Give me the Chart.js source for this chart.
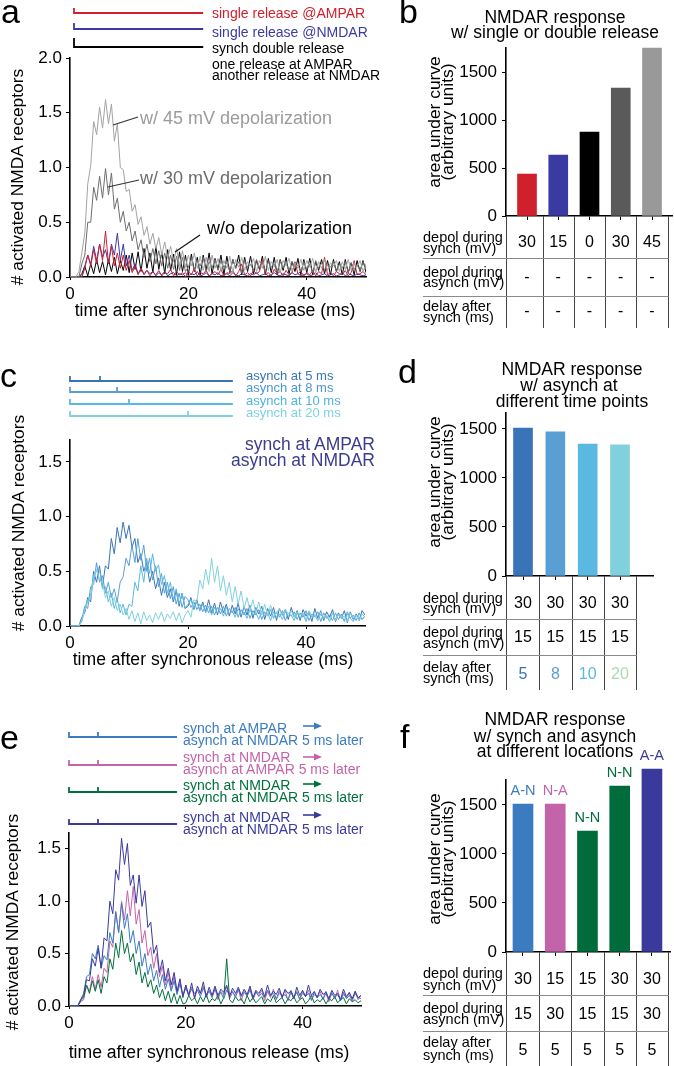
<!DOCTYPE html>
<html><head><meta charset="utf-8">
<script src="https://cdn.jsdelivr.net/npm/chart.js@4.4.1/dist/chart.umd.min.js"></script>
<style>
html,body{margin:0;padding:0;background:#fff}
body{width:674px;height:1066px;position:relative;overflow:hidden;font-family:"Liberation Sans",Arial,Helvetica,sans-serif}
canvas{position:absolute}
.t{position:absolute;white-space:nowrap;line-height:1}
</style></head>
<body>
<script>
// ---------------- DATA ----------------
const T_STEP = 0.5;            // ms between digitised samples (t = 0 ... 50 ms)
const TIME_TICKS = [0, 20, 40];
const TRACE_Y_TICKS = [0, 0.5, 1.0, 1.5, 2.0];
const BAR_Y_TICKS = [0, 500, 1000, 1500];

// panel a : # activated NMDA receptors
const A_DEP45 = [0,0,0,.05,.22,.4,.85,1.02,1.42,1.3,
 1.55,1.36,1.62,1.4,1.58,1.24,1.4,1.0,.98,.78,
 .8,.6,.66,.48,.55,.38,.46,.3,.4,.26,
 .36,.2,.32,.17,.28,.14,.26,.1,.24,.09,
 .2,.1,.22,.08,.19,.06,.18,.05,.2,.08,
 .17,.06,.15,.08,.19,.04,.16,.09,.18,.06,
 .14,.1,.17,.05,.15,.08,.19,.06,.14,.09,
 .16,.04,.15,.1,.17,.05,.13,.08,.16,.06,
 .15,.09,.17,.04,.14,.08,.16,.06,.13,.1,
 .15,.05,.14,.07,.16,.06,.13,.09,.15,.05,
 .12];
const A_DEP30 = [0,0,0,0,.12,.2,.5,.5,.82,.7,
 .92,.72,.99,.75,.95,.62,.72,.5,.6,.42,
 .5,.33,.42,.25,.34,.18,.3,.14,.26,.12,
 .24,.1,.22,.08,.2,.07,.19,.06,.18,.05,
 .09,.17,.06,.15,.1,.18,.05,.14,.08,.16,
 .06,.15,.09,.13,.05,.16,.08,.14,.04,.15,
 .09,.12,.06,.16,.08,.13,.05,.14,.09,.12,
 .04,.15,.08,.13,.06,.14,.09,.11,.05,.14,
 .07,.12,.04,.15,.08,.13,.06,.11,.09,.14,
 .05,.12,.08,.14,.04,.13,.07,.11,.06,.14,
 .08];
const A_DOUBLE = [0,0,0,0,.03,.1,.01,.12,.03,.16,
 .04,.14,.02,.16,.05,.18,.03,.15,.06,.2,
 .04,.22,.07,.23,.05,.26,.08,.22,.04,.28,
 .07,.23,.03,.25,.06,.21,.02,.23,.05,.2,
 .02,.21,.05,.18,.02,.2,.06,.22,.03,.17,
 .07,.2,.02,.19,.04,.16,.08,.2,.02,.18,
 .05,.19,.03,.15,.07,.19,.02,.17,.04,.18,
 .02,.16,.06,.18,.03,.14,.05,.17,.02,.16,
 .04,.17,.02,.14,.06,.16,.03,.15,.02,.16,
 .05,.14,.02,.16,.04,.13,.02,.15,.05,.15,
 .04];
const A_SINGLE_AMPAR = [0,0,0,0,0,.08,.2,.1,.25,.12,
 .3,.15,.42,.12,.28,.1,.22,.08,.2,.06,
 .15,.04,.1,.02,.08,.03,.06,.01,.05,.02,
 .06,.01,.04,.03,.07,.01,.05,.02,.04,0,
 .05,.02,.08,.01,.04,.03,.06,.01,.03,.05,
 .02,.07,.01,.04,.03,.06,.01,.05,.12,.02,
 .04,.01,.06,.03,.05,.16,.02,.04,.01,.07,
 .03,.05,.01,.06,.02,.04,.14,.03,.05,.01,
 .04,.02,.06,.01,.05,.03,.18,.02,.04,.01,
 .05,.03,.02,.06,.01,.04,.15,.02,.03,.05,
 .02];
const A_SINGLE_NMDAR = [0,0,0,0,0,.1,.2,.12,.28,.15,
 .3,.18,.25,.12,.3,.2,.4,.15,.3,.1,
 .2,.06,.12,.03,.08,.02,.06,.03,.05,.01,
 .04,.02,.05,.01,.03,.04,.01,.03,.02,.04,
 .01,.03,.02,.05,.01,.02,.04,.01,.03,.02,
 .04,.01,.02,.03,.01,.04,.02,.01,.03,.02,
 .01,.03,.02,.04,.01,.02,.03,.01,.02,.04,
 .02,.01,.03,.02,.01,.04,.02,.03,.01,.02,
 .03,.01,.02,.04,.01,.02,.03,.01,.02,.03,
 .01,.02,.04,.01,.03,.02,.01,.03,.02,.01,
 .02];

// panel c : asynch at 5 / 8 / 10 / 20 ms
const C_ASYNC5 = [0,0,0,0,.08,.12,.26,.22,.5,.4,
 .55,.36,.55,.52,.8,.66,.9,.76,.95,.8,
 .92,.72,.8,.58,.66,.5,.58,.4,.5,.34,
 .44,.28,.4,.26,.34,.22,.32,.18,.3,.16,
 .18,.26,.15,.24,.14,.22,.13,.24,.12,.21,
 .1,.22,.12,.2,.09,.19,.11,.21,.08,.18,
 .1,.19,.07,.17,.11,.18,.06,.16,.09,.17,
 .05,.16,.1,.15,.06,.17,.08,.14,.05,.15,
 .09,.13,.04,.16,.07,.14,.05,.13,.08,.15,
 .04,.12,.07,.14,.03,.13,.06,.11,.05,.14,
 .1];
const C_ASYNC8 = [0,0,0,0,.06,.18,.16,.36,.38,.58,
 .4,.46,.3,.4,.26,.34,.22,.4,.45,.62,
 .55,.74,.58,.8,.6,.74,.5,.62,.42,.55,
 .36,.48,.3,.4,.25,.36,.2,.3,.17,.27,
 .24,.17,.22,.15,.2,.13,.19,.12,.18,.1,
 .17,.11,.18,.09,.16,.12,.17,.08,.15,.1,
 .16,.07,.14,.1,.15,.06,.13,.09,.15,.07,
 .13,.08,.14,.05,.12,.09,.13,.06,.12,.08,
 .14,.05,.11,.08,.13,.04,.12,.07,.1,.05,
 .12,.06,.11,.04,.13,.07,.1,.05,.12,.06,
 .09];
const C_ASYNC10 = [0,0,0,0,.04,.16,.24,.28,.46,.5,
 .52,.34,.36,.22,.3,.16,.25,.12,.2,.1,
 .2,.18,.4,.32,.55,.4,.62,.48,.66,.5,
 .56,.38,.46,.3,.4,.24,.34,.2,.3,.16,
 .2,.24,.16,.22,.14,.2,.12,.18,.1,.17,
 .12,.16,.09,.17,.11,.14,.08,.16,.1,.13,
 .07,.15,.1,.12,.06,.14,.09,.12,.05,.13,
 .08,.11,.06,.13,.09,.1,.05,.12,.07,.11,
 .04,.12,.08,.1,.05,.11,.07,.09,.04,.12,
 .06,.1,.08,.05,.11,.07,.04,.1,.08,.06,
 .09];
const C_ASYNC20 = [0,0,0,0,.05,.14,.22,.26,.44,.52,
 .42,.4,.26,.32,.18,.26,.14,.2,.1,.16,
 .06,.14,.04,.12,.02,.13,.05,.1,.03,.12,
 .06,.13,.04,.11,.07,.13,.05,.12,.03,.1,
 .14,.08,.24,.22,.42,.34,.52,.38,.62,.4,
 .55,.32,.46,.28,.4,.22,.36,.2,.32,.16,
 .26,.14,.24,.12,.22,.1,.2,.09,.19,.08,
 .12,.16,.09,.15,.11,.14,.08,.13,.1,.12,
 .06,.14,.09,.11,.05,.13,.08,.1,.06,.12,
 .05,.11,.08,.09,.04,.12,.07,.1,.05,.11,
 .08];

// panel e : synch / asynch at different locations
const E_NMDAR_NMDAR_30 = [0,0,0,0,.06,.1,.25,.24,.45,.38,
 .55,.36,.65,.62,1.0,.88,1.3,1.2,1.6,1.35,
 1.55,1.15,1.25,.98,1.25,.95,1.1,.75,.8,.5,
 .58,.32,.44,.24,.36,.2,.32,.14,.26,.08,
 .2,.1,.22,.08,.19,.12,.23,.09,.18,.1,
 .19,.1,.16,.13,.2,.09,.17,.12,.18,.1,
 .16,.11,.19,.08,.15,.12,.17,.09,.2,.1,
 .14,.11,.17,.08,.16,.12,.14,.07,.18,.1,
 .15,.09,.2,.1,.14,.08,.16,.11,.13,.07,
 .15,.1,.12,.06,.16,.09,.13,.07,.14,.08,
 .1];
const E_AMPAR_NMDAR = [0,0,0,0,.06,.12,.28,.3,.5,.45,
 .58,.36,.48,.44,.7,.6,.9,.7,.98,.74,
 .88,.6,.72,.5,.62,.38,.5,.3,.4,.24,
 .34,.18,.3,.16,.26,.14,.24,.11,.21,.1,
 .17,.1,.16,.12,.15,.09,.17,.11,.14,.08,
 .16,.1,.13,.07,.15,.11,.14,.08,.16,.09,
 .13,.1,.15,.07,.14,.09,.12,.08,.15,.1,
 .12,.07,.14,.09,.11,.06,.15,.08,.13,.07,
 .14,.09,.12,.06,.13,.08,.11,.07,.14,.06,
 .12,.08,.11,.05,.13,.07,.1,.06,.12,.08,
 .07];
const E_NMDAR_AMPAR = [0,0,0,0,.04,.06,.2,.14,.28,.16,
 .3,.18,.36,.32,.62,.56,.9,.7,1.0,.82,
 1.1,.86,1.14,.78,.92,.6,.72,.48,.56,.36,
 .5,.28,.38,.2,.32,.16,.28,.12,.25,.1,
 .2,.1,.18,.07,.16,.12,.19,.08,.15,.1,
 .17,.06,.14,.11,.18,.07,.13,.1,.16,.05,
 .14,.09,.17,.06,.13,.1,.15,.05,.14,.08,
 .16,.06,.12,.09,.15,.05,.13,.08,.14,.06,
 .12,.09,.15,.05,.11,.08,.14,.06,.12,.04,
 .13,.07,.15,.05,.11,.08,.12,.04,.14,.06,
 .1];
const E_NMDAR_NMDAR_15 = [0,0,0,0,.05,.08,.2,.12,.24,.14,
 .25,.12,.28,.22,.45,.35,.6,.46,.72,.5,
 .6,.42,.5,.3,.42,.22,.32,.18,.25,.12,
 .2,.08,.16,.05,.14,.03,.12,.02,.1,.02,
 .03,.1,.05,.08,.02,.09,.04,.11,.03,.07,
 .05,.1,.02,.08,.45,.06,.03,.09,.05,.07,
 .02,.1,.04,.08,.03,.06,.09,.02,.07,.04,
 .1,.03,.06,.08,.02,.07,.05,.09,.03,.06,
 .08,.02,.05,.1,.03,.06,.04,.08,.02,.07,
 .05,.09,.03,.06,.08,.02,.07,.04,.06,.03,
 .05];

// stimulus schematics (ms)
const A_STIM_START = [0.7, 0.7, 0.7];
const A_STIM_END = [22.5, 22.5, 22.5];
const C_STIM_END = 27.6;
const C_ASYNC_TIMES = [5, 8, 10, 20];
const E_STIM_END = 18.5;
const E_ASYNC_TIMES = [5, 5, 5, 5];

// bar panels : area under curve
const B_VALUES = [437, 635, 875, 1333, 1750];
const B_SYNCH = ['30', '15', '0', '30', '45'];
const B_ASYNCH = ['-', '-', '-', '-', '-'];
const B_DELAY = ['-', '-', '-', '-', '-'];

const D_VALUES = [1510, 1470, 1347, 1337];
const D_SYNCH = ['30', '30', '30', '30'];
const D_ASYNCH = ['15', '15', '15', '15'];
const D_DELAY = ['5', '8', '10', '20'];

const F_VALUES = [1510, 1510, 1235, 1694, 1867];
const F_LABELS = ['A-N', 'N-A', 'N-N', 'N-N', 'A-A'];
const F_SYNCH = ['30', '15', '15', '30', '30'];
const F_ASYNCH = ['15', '30', '15', '15', '30'];
const F_DELAY = ['5', '5', '5', '5', '5'];

const ROW_LABELS = [['depol during', 'synch (mV)'], ['depol during', 'asynch (mV)'], ['delay after', 'synch (ms)']];

// ---------------- STYLE / LAYOUT ----------------
const FONT = '"Liberation Sans", Arial, Helvetica, sans-serif';
Chart.defaults.font.family = FONT;
Chart.defaults.color = '#000';

const COL = {
  red: '#d0202e', blueA: '#3a3aa3', black: '#000000', gray30: '#6e6e6e', gray45: '#a3a3a3',
  c5: '#3874b7', c8: '#5a9fd3', c10: '#5bb8e0', c20: '#80d1dd',
  navy: '#3a3a9c', blue: '#3b7cc0', pink: '#c364ab', green: '#00713c',
  barDark: '#5a5a5a', barLight: '#999999'
};

function addText(s, x, y, o = {}) {
  const d = document.createElement('div');
  d.className = 't';
  d.textContent = s;
  d.style.left = x + 'px';
  d.style.top = y + 'px';
  d.style.fontSize = (o.size || 14) + 'px';
  d.style.color = o.color || '#000';
  let tf = 'translateY(-50%)';
  if (o.align === 'center') tf = 'translate(-50%,-50%)';
  if (o.align === 'right') tf = 'translate(-100%,-50%)';
  if (o.rot) tf = 'translate(-50%,-50%) rotate(-90deg)';
  d.style.transform = tf;
  document.body.appendChild(d);
}

function makeCanvas(box) {
  const c = document.createElement('canvas');
  c.width = box.w; c.height = box.h;
  c.style.left = box.x + 'px'; c.style.top = box.y + 'px';
  c.style.width = box.w + 'px'; c.style.height = box.h + 'px';
  document.body.appendChild(c);
  return c;
}

const toXY = arr => arr.map((v, i) => ({ x: i * T_STEP, y: v }));

function axisBorder() { return { display: true, color: '#000', width: 1.6 }; }

function lineChart(box, area, ymax, series, plugin) {
  const c = makeCanvas(box);
  return new Chart(c, {
    type: 'line',
    data: { datasets: series.map(s => ({ data: toXY(s.data), borderColor: s.color, borderWidth: 1, pointRadius: 0, fill: false, tension: 0 })) },
    options: {
      responsive: false, animation: false, devicePixelRatio: 1, events: [],
      layout: { padding: { left: 0, top: area.top - box.y, right: box.x + box.w - area.right, bottom: 0 } },
      plugins: { legend: { display: false }, tooltip: { enabled: false } },
      scales: {
        x: {
          type: 'linear', min: 0, max: 50, offset: false,
          afterFit: s => { s.height = box.y + box.h - area.bottom; },
          afterBuildTicks: s => { s.ticks = TIME_TICKS.map(v => ({ value: v })); },
          ticks: { font: { size: 17 }, padding: 4, maxRotation: 0, color: '#000' },
          grid: { drawOnChartArea: false, drawTicks: true, tickLength: 3, color: '#000', offset: false },
          border: axisBorder()
        },
        y: {
          type: 'linear', min: 0, max: ymax,
          afterFit: s => { s.width = area.left - box.x; },
          afterBuildTicks: s => { s.ticks = TRACE_Y_TICKS.filter(v => v <= ymax).map(v => ({ value: v })); },
          ticks: { font: { size: 17 }, padding: 4, color: '#000', callback: v => Number(v).toFixed(1) },
          grid: { drawOnChartArea: false, drawTicks: true, tickLength: 4, color: '#000' },
          border: axisBorder()
        }
      }
    },
    plugins: plugin ? [plugin] : []
  });
}

function barChart(box, area, xmin, xmax, ymax, values, colors, thick, tableLines) {
  const c = makeCanvas(box);
  return new Chart(c, {
    type: 'bar',
    data: { datasets: [{ data: values.map((v, i) => ({ x: i, y: v })), backgroundColor: colors, barThickness: thick, clip: false, borderWidth: 0 }] },
    options: {
      responsive: false, animation: false, devicePixelRatio: 1, events: [],
      layout: { padding: { left: 0, top: area.top - box.y, right: box.x + box.w - area.right, bottom: 0 } },
      plugins: { legend: { display: false }, tooltip: { enabled: false } },
      scales: {
        x: {
          type: 'linear', min: xmin, max: xmax, offset: false,
          afterFit: s => { s.height = box.y + box.h - area.bottom; },
          afterBuildTicks: s => { s.ticks = values.map((v, i) => ({ value: i })); },
          ticks: { callback: () => '' },
          grid: { drawOnChartArea: false, drawTicks: true, tickLength: 4, color: '#000', offset: false },
          border: axisBorder()
        },
        y: {
          type: 'linear', min: 0, max: ymax,
          afterFit: s => { s.width = area.left - box.x; },
          afterBuildTicks: s => { s.ticks = BAR_Y_TICKS.map(v => ({ value: v })); },
          ticks: { font: { size: 17 }, padding: 5, color: '#000', callback: v => String(v) },
          grid: { drawOnChartArea: false, drawTicks: true, tickLength: 4, color: '#000' },
          border: axisBorder()
        }
      }
    },
    plugins: [{
      id: 'table',
      afterDraw(chart) {
        const ctx = chart.ctx, xs = chart.scales.x, ca = chart.chartArea;
        const n = values.length;
        const px = i => xs.getPixelForValue(i);
        const bounds = [ca.left];
        for (let i = 0; i < n - 1; i++) bounds.push((px(i) + px(i + 1)) / 2);
        bounds.push(px(n - 1) + (px(n - 1) - px(n - 2)) / 2);
        ctx.save();
        ctx.lineWidth = 1;
        ctx.strokeStyle = '#444';
        const bottom = tableLines.bottom - box.y;
        bounds.forEach(b => { const xx = Math.round(b) + 0.5; ctx.beginPath(); ctx.moveTo(xx, ca.bottom); ctx.lineTo(xx, bottom); ctx.stroke(); });
        ctx.strokeStyle = '#8a8a8a';
        tableLines.rows.forEach(yy => { const y = yy - box.y + 0.5; ctx.beginPath(); ctx.moveTo(tableLines.left - box.x, y); ctx.lineTo(bounds[bounds.length - 1] + 1, y); ctx.stroke(); });
        ctx.restore();
      }
    }]
  });
}

function drawStim(ctx, xs, y, start, end, color, startTick, asyncT) {
  ctx.save();
  ctx.strokeStyle = color; ctx.lineWidth = 1.8;
  const x0 = Math.round(xs.getPixelForValue(start)), x1 = xs.getPixelForValue(end);
  ctx.beginPath();
  ctx.moveTo(x0, y - startTick); ctx.lineTo(x0, y); ctx.lineTo(x1, y);
  ctx.stroke();
  if (asyncT !== undefined) {
    const xa = Math.round(xs.getPixelForValue(asyncT));
    ctx.beginPath(); ctx.moveTo(xa, y); ctx.lineTo(xa, y - 5); ctx.stroke();
  }
  ctx.restore();
}

function seg(ctx, x0, y0, x1, y1, color) {
  ctx.save(); ctx.strokeStyle = color; ctx.lineWidth = 1.2;
  ctx.beginPath(); ctx.moveTo(x0, y0); ctx.lineTo(x1, y1); ctx.stroke(); ctx.restore();
}

function arrow(ctx, x0, x1, y, color) {
  ctx.save(); ctx.strokeStyle = color; ctx.fillStyle = color; ctx.lineWidth = 1.6;
  ctx.beginPath(); ctx.moveTo(x0, y); ctx.lineTo(x1 - 6, y); ctx.stroke();
  ctx.beginPath(); ctx.moveTo(x1, y); ctx.lineTo(x1 - 8, y - 3.5); ctx.lineTo(x1 - 8, y + 3.5); ctx.closePath(); ctx.fill();
  ctx.restore();
}

function tableText(chart, box, rowsCfg, labelX, cells) {
  const xs = chart.scales.x;
  rowsCfg.forEach((r, ri) => {
    addText(ROW_LABELS[ri][0], labelX, r.l1, { size: 14.5 });
    addText(ROW_LABELS[ri][1], labelX, r.l2, { size: 14.5 });
    cells[ri].vals.forEach((v, i) => {
      const col = cells[ri].colors ? cells[ri].colors[i] : '#000';
      addText(v, box.x + xs.getPixelForValue(i), r.v, { size: 16, align: 'center', color: col });
    });
  });
}

// ---------------- PANEL a ----------------
const boxA = { x: 0, y: 0, w: 380, h: 330 };
lineChart(boxA, { left: 70, top: 58, right: 366, bottom: 277 }, 2.0, [
  { data: A_DEP45, color: COL.gray45 },
  { data: A_DEP30, color: COL.gray30 },
  { data: A_SINGLE_AMPAR, color: COL.red },
  { data: A_SINGLE_NMDAR, color: COL.blueA },
  { data: A_DOUBLE, color: COL.black }
], {
  id: 'stimA',
  afterDraw(chart) {
    const ctx = chart.ctx, xs = chart.scales.x;
    const ys = [13, 29, 47], cols = [COL.red, COL.blueA, '#000'], tk = [5, 6, 9];
    ys.forEach((y, i) => drawStim(ctx, xs, y, A_STIM_START[i], A_STIM_END[i], cols[i], tk[i]));
    seg(ctx, 113, 125, 138, 117, '#333');
    seg(ctx, 108, 187, 139, 180, '#333');
    seg(ctx, 175, 252, 200, 235, '#111');
  }
});

// ---------------- PANEL b ----------------
const boxB = { x: 380, y: 0, w: 294, h: 330 };
const chartB = barChart(boxB, { left: 506, top: 48, right: 672, bottom: 216 }, -0.672, 4.64, 1750, B_VALUES,
  [COL.red, COL.blueA, '#000', COL.barDark, COL.barLight], 19, { rows: [258, 296], bottom: 328, left: 423 });

// ---------------- PANEL c ----------------
const boxC = { x: 0, y: 330, w: 380, h: 340 };
lineChart(boxC, { left: 70, top: 440, right: 365, bottom: 626 }, 1.7, [
  { data: C_ASYNC20, color: COL.c20 },
  { data: C_ASYNC10, color: COL.c10 },
  { data: C_ASYNC8, color: COL.c8 },
  { data: C_ASYNC5, color: COL.c5 }
], {
  id: 'stimC',
  afterDraw(chart) {
    const ctx = chart.ctx, xs = chart.scales.x;
    const ys = [381, 392, 404, 416], cols = [COL.c5, COL.c8, COL.c10, COL.c20];
    ys.forEach((y, i) => drawStim(ctx, xs, y - boxC.y, 0, C_STIM_END, cols[i], 5, C_ASYNC_TIMES[i]));
  }
});

// ---------------- PANEL d ----------------
const boxD = { x: 380, y: 330, w: 294, h: 362 };
const chartD = barChart(boxD, { left: 506, top: 413, right: 653, bottom: 576 }, -0.526, 4.02, 1663, D_VALUES,
  [COL.c5, COL.c8, COL.c10, COL.c20], 19, { rows: [619, 655], bottom: 690, left: 423 });

// ---------------- PANEL e ----------------
const boxE = { x: 0, y: 660, w: 380, h: 406 };
lineChart(boxE, { left: 69, top: 833, right: 361, bottom: 1006 }, 1.65, [
  { data: E_NMDAR_NMDAR_30, color: COL.navy },
  { data: E_AMPAR_NMDAR, color: COL.blue },
  { data: E_NMDAR_NMDAR_15, color: COL.green },
  { data: E_NMDAR_AMPAR, color: COL.pink }
], {
  id: 'stimE',
  afterDraw(chart) {
    const ctx = chart.ctx, xs = chart.scales.x;
    const ys = [737, 765, 792, 824], cols = [COL.blue, COL.pink, COL.green, COL.navy];
    const ay = [726, 757, 784, 815];
    ys.forEach((y, i) => {
      drawStim(ctx, xs, y - boxE.y, 0, E_STIM_END, cols[i], 5, E_ASYNC_TIMES[i]);
      arrow(ctx, 303, 322, ay[i] - boxE.y, cols[i]);
    });
  }
});

// ---------------- PANEL f ----------------
const boxF = { x: 380, y: 660, w: 294, h: 406 };
const F_COLORS = [COL.blue, COL.pink, '#006b3b', '#006b3b', COL.navy];
const chartF = barChart(boxF, { left: 506, top: 780, right: 670, bottom: 952 }, -0.527, 4.56, 1755, F_VALUES,
  F_COLORS, 20, { rows: [995, 1031], bottom: 1066, left: 423 });

// ---------------- TEXT ----------------
addText('a', 1, 11, { size: 34 });
addText('b', 399, 11, { size: 34 });
addText('c', 0, 375, { size: 34 });
addText('d', 398, 371, { size: 34 });
addText('e', 0, 737, { size: 34 });
addText('f', 400, 736, { size: 34 });

// panel a
addText('single release @AMPAR', 212, 13, { color: COL.red });
addText('single release @NMDAR', 212, 32, { color: COL.blueA });
addText('synch double release', 212, 48);
addText('one release at AMPAR', 212, 64);
addText('another release at NMDAR', 212, 75);
addText('w/ 45 mV depolarization', 140, 118, { size: 18, color: '#9b9b9b' });
addText('w/ 30 mV depolarization', 140, 178, { size: 18, color: '#6b6b6b' });
addText('w/o depolarization', 207, 228, { size: 18 });
addText('# activated NMDA receptors', 18, 177, { size: 17.4, rot: true });
addText('time after synchronous release (ms)', 215, 311, { size: 17.6, align: 'center' });

// panel b
addText('NMDAR response', 555, 18, { size: 17.5, align: 'center' });
addText('w/ single or double release', 555, 33, { size: 17.5, align: 'center' });
addText('area under curve', 435, 122, { size: 17.4, rot: true });
addText('(arbitrary units)', 448, 122, { size: 17.4, rot: true });
tableText(chartB, boxB, [{ l1: 237, l2: 248, v: 242 }, { l1: 272, l2: 282, v: 277 }, { l1: 306, l2: 317, v: 311 }], 423,
  [{ vals: B_SYNCH }, { vals: B_ASYNCH }, { vals: B_DELAY }]);

// panel c
addText('asynch at 5 ms', 246, 375, { size: 13, color: COL.c5 });
addText('asynch at 8 ms', 246, 387, { size: 13, color: '#4b97d0' });
addText('asynch at 10 ms', 246, 400, { size: 13, color: '#4fb5de' });
addText('asynch at 20 ms', 246, 412, { size: 13, color: '#7ed3e2' });
addText('synch at AMPAR', 375, 445, { size: 17.5, align: 'right', color: '#3c3c8e' });
addText('asynch at NMDAR', 375, 461, { size: 17.5, align: 'right', color: '#3c3c8e' });
addText('# activated NMDA receptors', 19, 523, { size: 17.4, rot: true });
addText('time after synchronous release (ms)', 213, 660, { size: 17.6, align: 'center' });

// panel d
addText('NMDAR response', 572, 370, { size: 17.5, align: 'center' });
addText('w/ asynch at', 569, 386, { size: 17.5, align: 'center' });
addText('different time points', 572, 402, { size: 17.5, align: 'center' });
addText('area under curve', 435, 482, { size: 17.4, rot: true });
addText('(arbitrary units)', 448, 482, { size: 17.4, rot: true });
tableText(chartD, boxD, [{ l1: 598, l2: 608, v: 603 }, { l1: 632, l2: 643, v: 637 }, { l1: 667, l2: 678, v: 674 }], 423,
  [{ vals: D_SYNCH }, { vals: D_ASYNCH }, { vals: D_DELAY, colors: [COL.c5, COL.c8, COL.c10, '#a9dbb0'] }]);

// panel e
const eLab = [['synch at AMPAR', 'asynch at NMDAR 5 ms later', COL.blue, 728],
  ['synch at NMDAR', 'asynch at AMPAR 5 ms later', COL.pink, 757],
  ['synch at NMDAR', 'asynch at NMDAR 5 ms later', COL.green, 785],
  ['synch at NMDAR', 'asynch at NMDAR 5 ms later', COL.navy, 817]];
eLab.forEach(l => { addText(l[0], 183, l[3], { color: l[2] }); addText(l[1], 183, l[3] + 12, { color: l[2] }); });
addText('# activated NMDA receptors', 13, 922, { size: 17.4, rot: true });
addText('time after synchronous release (ms)', 209, 1053, { size: 17.6, align: 'center' });

// panel f
addText('NMDAR response', 555, 720, { size: 17.5, align: 'center' });
addText('w/ synch and asynch', 555, 737, { size: 17.5, align: 'center' });
addText('at different locations', 555, 752, { size: 17.5, align: 'center' });
addText('area under curve', 435, 859, { size: 17.4, rot: true });
addText('(arbitrary units)', 448, 859, { size: 17.4, rot: true });
chartF.getDatasetMeta(0).data.forEach((bar, i) => {
  addText(F_LABELS[i], boxF.x + bar.x, boxF.y + bar.y - 14, { size: 14.5, align: 'center', color: F_COLORS[i] });
});
tableText(chartF, boxF, [{ l1: 973, l2: 985, v: 979 }, { l1: 1008, l2: 1019, v: 1014 }, { l1: 1042, l2: 1055, v: 1050 }], 423,
  [{ vals: F_SYNCH }, { vals: F_ASYNCH }, { vals: F_DELAY }]);
</script>
</body></html>
